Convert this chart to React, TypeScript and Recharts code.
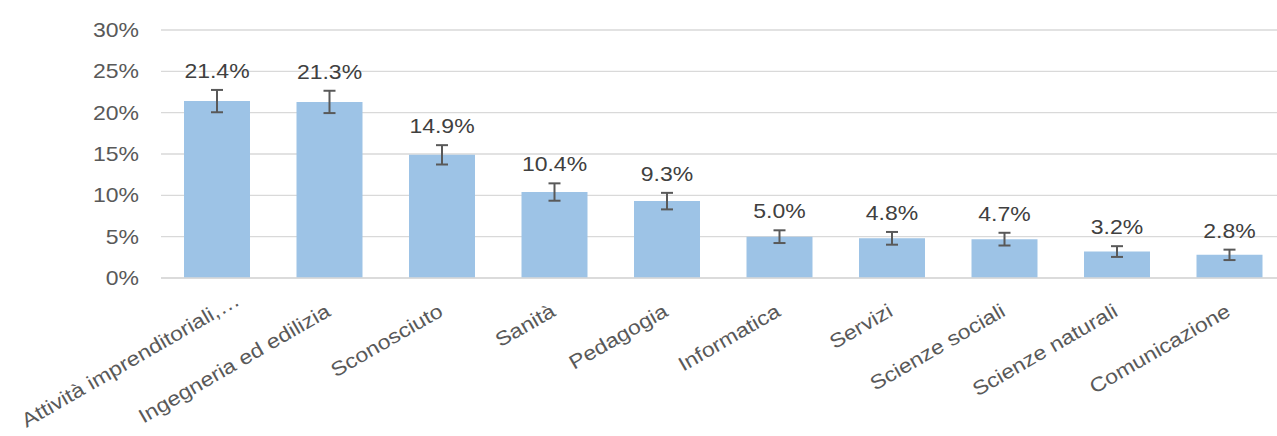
import React from 'react';
import { BarChart, Bar, XAxis, YAxis, CartesianGrid, ErrorBar, LabelList } from 'recharts';

const categories = [
  'Attività imprenditoriali,…',
  'Ingegneria ed edilizia',
  'Sconosciuto',
  'Sanità',
  'Pedagogia',
  'Informatica',
  'Servizi',
  'Scienze sociali',
  'Scienze naturali',
  'Comunicazione',
];
const shares = [0.214, 0.213, 0.149, 0.104, 0.093, 0.05, 0.048, 0.047, 0.032, 0.028];
const errors = [0.0135, 0.0135, 0.0117, 0.0105, 0.01, 0.0077, 0.0077, 0.0077, 0.0065, 0.0063];
const yTicks = [0, 0.05, 0.1, 0.15, 0.2, 0.25, 0.3];

const data = categories.map((name, i) => ({ name, share: shares[i], err: errors[i] }));

const FONT = '"Liberation Sans", Arial, sans-serif';
const STRETCH = 1.15; // the source text is a bit wide

const pct = (v: number, d = 0) => `${(v * 100).toFixed(d)}%`;

const ValueLabel = (props: any) => {
  const { x, y, width, height, value, index } = props;
  const errPx = value ? (errors[index] * height) / value : 0;
  const cx = x + width / 2;
  const by = y - errPx - 12;
  return (
    <text
      transform={`translate(${cx}, ${by}) scale(${STRETCH}, 1)`}
      textAnchor="middle"
      fontSize={20}
      fontFamily={FONT}
      fill="#404040"
    >
      {pct(value, 1)}
    </text>
  );
};

const ValueTick = (props: any) => {
  const { y, payload } = props;
  return (
    <text
      transform={`translate(139, ${y + 7}) scale(${STRETCH}, 1)`}
      textAnchor="end"
      fontSize={20}
      fontFamily={FONT}
      fill="#595959"
    >
      {pct(payload.value)}
    </text>
  );
};

// rotated category labels, text end sits on the category centre
// (the first, long one is pushed up along its baseline so it fits)
const CategoryTick = (props: any) => {
  const { x, y, payload } = props;
  const first = payload.index === 0;
  const tx = x + 2 + (first ? 22 : 0);
  const ty = y + 37 - (first ? 11 : 0);
  return (
    <text
      transform={`translate(${tx}, ${ty}) rotate(-30) scale(${STRETCH}, 1)`}
      textAnchor="end"
      fontSize={20}
      fontFamily={FONT}
      fill="#595959"
    >
      {payload.value}
    </text>
  );
};

export default function App() {
  return (
    <div style={{ position: 'absolute', left: 0, top: 0, width: 1277, height: 436, overflow: 'hidden', background: '#fff' }}>
      <BarChart
        width={1300}
        height={436}
        data={data}
        margin={{ top: 30, right: 14, bottom: 0, left: 0 }}
      >
        <CartesianGrid vertical={false} stroke="#d9d9d9" strokeWidth={1.3} />
        <XAxis
          dataKey="name"
          interval={0}
          axisLine={{ stroke: '#d9d9d9', strokeWidth: 1.3 }}
          tickLine={false}
          height={158}
          tickSize={0}
          tickMargin={0}
          tick={<CategoryTick />}
        />
        <YAxis
          width={161}
          domain={[0, 0.3]}
          ticks={yTicks}
          axisLine={false}
          tickLine={false}
          tickSize={0}
          tick={<ValueTick />}
        />
        <Bar dataKey="share" fill="#9dc3e6" barSize={66} isAnimationActive={false}>
          <ErrorBar dataKey="err" width={6} stroke="#595959" strokeWidth={2} direction="y" />
          <LabelList dataKey="share" content={ValueLabel} />
        </Bar>
      </BarChart>
    </div>
  );
}
